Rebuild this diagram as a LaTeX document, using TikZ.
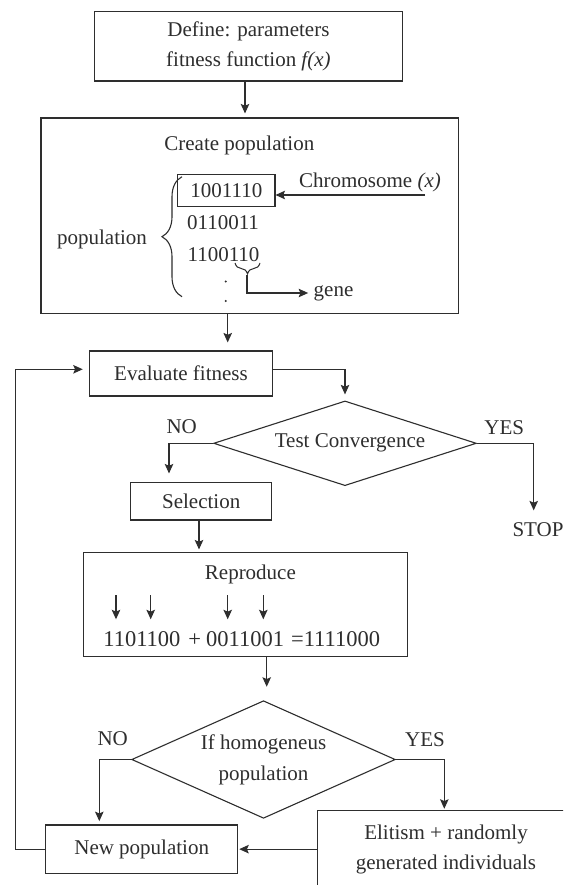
\documentclass[tikz,border=0pt]{standalone}
\usepackage{fontspec}
\setmainfont{Liberation Serif}
\usetikzlibrary{arrows.meta,shapes.geometric,decorations.pathreplacing,calc}
\begin{document}
\begin{tikzpicture}[x=1pt,y=-1pt,
  color=black!82, line width=1.1pt,
  base/.style={font=\fontsize{21}{29.3}\selectfont},
  box/.style={draw, rectangle, inner sep=0pt, base},
  dia/.style={draw, diamond, inner sep=0pt, base, align=center},
  lbl/.style={inner sep=2pt, base},
  arr/.style={-{Stealth[length=9.5pt,width=8.5pt,inset=1.8pt]}},
  brc/.style={decorate, decoration={brace, amplitude=#1}},
]
\clip (0,0) rectangle (563,885);
\fill[white] (0,0) rectangle (563,885);

% ---- nodes ----
\node[box, minimum width=308.7pt, minimum height=69.3pt, align=center] (define) at (248.4,46.4) {Define: parameters\\fitness function \textit{f(x)}};
\node[box, minimum width=417.7pt, minimum height=195.3pt] (create) at (249.85,215.65) {};
\node[lbl] (createlbl) at (239.3,145) {Create population};
\node[box, minimum width=97.3pt, minimum height=31.7pt] (chrom) at (226.3,190.8) {1001110\hspace{4pt}};
\node[lbl] (c2) at (223,222.7) {0110011};
\node[lbl] (c3) at (223.5,254.3) {1100110};
\node[lbl] (poplbl) at (102,239) {population};
\node[lbl] (chromlbl) at (370,182.7) {Chromosome \textit{(x)}};
\node[lbl] (gene) at (333.5,293) {gene};

\node[box, minimum width=183.4pt, minimum height=45pt] (eval) at (181,373.5) {Evaluate fitness};
\node[dia, aspect=3.1, minimum width=262.7pt, minimum height=84.7pt] (test) at (345,443.3) {\hspace{10pt}Test Convergence};
\node[lbl] (no1) at (181.7,426.7) {NO};
\node[lbl] (yes1) at (504.3,427.3) {YES};
\node[lbl] (stop) at (538,530) {STOP};

\node[box, minimum width=141pt, minimum height=37.3pt] (sel) at (201.2,501.35) {Selection};
\node[box, minimum width=324.4pt, minimum height=104.4pt] (repro) at (245.5,604.5) {};
\node[lbl] (reprolbl) at (250.4,574.3) {Reproduce};
\node[lbl, font=\fontsize{22.5}{27}\selectfont] (eqn) at (241.7,638.8) {1101100\hspace{8pt}+\hspace{5pt}0011001\hspace{7pt}=1111000};

\node[dia, aspect=2.24, minimum width=263.6pt, minimum height=117.6pt, font=\fontsize{21}{30.7}\selectfont] (homog) at (263.5,759.5) {If homogeneus\\population};
\node[lbl] (no2) at (112.7,738.3) {NO};
\node[lbl] (yes2) at (425,739.3) {YES};

\node[box, minimum width=192pt, minimum height=48.3pt] (newpop) at (141.7,849.15) {New population};
\node[box, minimum width=256.6pt, minimum height=76.9pt, align=center, font=\fontsize{21}{29.7}\selectfont] (elit) at (446,849.15) {Elitism + randomly\\generated individuals};

% ---- helper coordinates ----
\coordinate (x0) at (245,0);
\coordinate (x1) at (227.7,0);
\coordinate (noX) at (169,0);
\coordinate (yesX) at (533.7,0);
\coordinate (selX) at (199,0);
\coordinate (rpX) at (266.7,0);
\coordinate (no2X) at (99.3,0);
\coordinate (yes2X) at (444.3,0);
\coordinate (fbX) at (15.7,0);
\coordinate (chA) at (425,195);
\coordinate (gT) at (247,275);
\coordinate (brT) at (182,176.7);
\coordinate (brB) at (182,296.7);
\coordinate (sbL) at (235,263);
\coordinate (sbR) at (260,263);

% ---- braces and dots ----
\draw[brc=20pt] (brB) -- (brT);
\draw[brc=11pt, line width=1pt] (sbR) -- (sbL);
\fill (225.8,281.5) circle (1.1pt);
\fill (225.8,301) circle (1.1pt);

% ---- connectors ----
\draw[arr, shorten >=4pt] (define.south -| x0) -- (create.north -| x0);
\draw[arr] (chA) -- (chA -| chrom.east);
\draw[arr, shorten >=3pt] (gT) |- (gene.west);
\draw[arr, shorten >=8pt] (create.south -| x1) -- (eval.north -| x1);
\draw[arr, shorten >=6pt] ([yshift=4.2pt]eval.east) -| (test.north);
\draw[arr, shorten >=8.7pt] (test.west) -| (noX |- sel.north);
\draw[arr, shorten >=10pt] (test.east) -| (yesX |- stop.north);
\draw[arr, shorten >=2.3pt] (sel.south -| selX) -- (repro.north -| selX);
\foreach \i/\x in {1/116,2/150.7,3/227.7,4/263.3}{
  \coordinate (ra\i) at (\x,595);
  \coordinate (rb\i) at (\x,619.3);
  \draw[arr] (ra\i) -- (rb\i);
}
\draw[arr, shorten >=13.4pt] (repro.south -| rpX) -- (homog.north -| rpX);
\draw[arr, shorten >=3.3pt] (homog.west) -| (no2X |- newpop.north);
\draw[arr, shorten >=1.4pt] (homog.east) -| (yes2X |- elit.north);
\draw[arr, shorten >=1pt] (elit.west) -- (newpop.east);
\draw[arr, shorten >=6pt] (newpop.west) -- (newpop.west -| fbX) |- ([yshift=4.2pt]eval.west);
\end{tikzpicture}
\end{document}
